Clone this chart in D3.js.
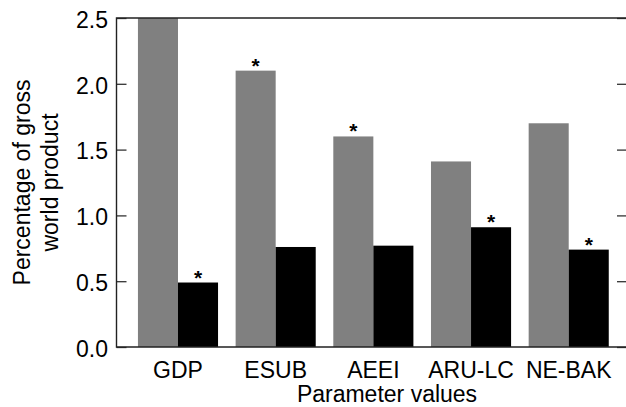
<!DOCTYPE html>
<html>
<head>
<meta charset="utf-8">
<script src="https://cdn.jsdelivr.net/npm/d3@7"></script>
<style>
  html, body { margin: 0; padding: 0; background: #fff; }
  svg { display: block; }
  text { font-family: "Liberation Sans", Arial, sans-serif; fill: #000; }
</style>
</head>
<body>
<svg id="chart" width="626" height="407"></svg>
<script>
const categories = ["GDP", "ESUB", "AEEI", "ARU-LC", "NE-BAK"];
const seriesNames = ["gray", "black"];
const grayValues = [2.5, 2.1, 1.6, 1.41, 1.70];
const blackValues = [0.49, 0.76, 0.77, 0.91, 0.74];
const grayStars = [false, true, true, false, false];
const blackStars = [true, false, false, true, true];
const yTicks = [0, 0.5, 1.0, 1.5, 2.0, 2.5];
const yLabelLines = ["Percentage of gross", "world product"];
const xTitle = "Parameter values";

const colors = { gray: "#808080", black: "#000000" };

const svg = d3.select("#chart");
const pL = 116.5, pR = 627, pT = 18, pB = 347;
const fs = 23;

const x0 = d3.scaleBand().domain(categories).range([129.15, 617.55]).paddingInner(0.18).paddingOuter(0.09);
const x1 = d3.scaleBand().domain(seriesNames).range([0, x0.bandwidth()]).padding(0);
const y = d3.scaleLinear().domain([0, 2.5]).range([pB, pT]);

const data = categories.map((c, i) => ({
  cat: c,
  vals: [
    { s: "gray", v: grayValues[i], star: grayStars[i] },
    { s: "black", v: blackValues[i], star: blackStars[i] }
  ]
}));

svg.append("clipPath").attr("id", "plotclip")
  .append("rect").attr("x", pL).attr("y", pT).attr("width", pR - pL).attr("height", pB - pT);

const groups = svg.append("g").attr("clip-path", "url(#plotclip)")
  .selectAll("g").data(data).join("g")
  .attr("transform", d => `translate(${x0(d.cat)},0)`);

groups.selectAll("rect").data(d => d.vals).join("rect")
  .attr("x", d => x1(d.s))
  .attr("width", x1.bandwidth())
  .attr("y", d => y(d.v))
  .attr("height", d => y(0) - y(d.v))
  .attr("fill", d => colors[d.s]);

groups.selectAll("text.star").data(d => d.vals.filter(v => v.star)).join("text")
  .attr("class", "star")
  .attr("x", d => x1(d.s) + x1.bandwidth() / 2)
  .attr("y", d => y(d.v) + 2)
  .attr("text-anchor", "middle")
  .style("font-size", "21px")
  .style("font-weight", "bold")
  .text("*");

// left axis (inward ticks)
const yAxis = svg.append("g").attr("transform", `translate(${pL},0)`)
  .call(d3.axisLeft(y).tickValues(yTicks).tickSize(-10).tickPadding(8.5).tickFormat(d3.format(".1f")));
yAxis.select(".domain").remove();
yAxis.selectAll(".tick line").attr("stroke", "#333").attr("stroke-width", 1.3);
yAxis.selectAll(".tick text").style("font-size", fs + "px")
  .attr("font-family", null).attr("dy", "0.4em");

// right axis ticks
const yAxisR = svg.append("g").attr("transform", `translate(${pR},0)`)
  .call(d3.axisRight(y).tickValues(yTicks).tickSize(-10).tickFormat(""));
yAxisR.select(".domain").remove();
yAxisR.selectAll(".tick line").attr("stroke", "#333").attr("stroke-width", 1.3);

// frame
svg.append("path")
  .attr("d", `M${pR},${pT}H${pL}V${pB}H${pR}`)
  .attr("fill", "none").attr("stroke", "#222").attr("stroke-width", 1.4);

// x labels
const xAxis = svg.append("g").attr("transform", `translate(0,${pB})`)
  .call(d3.axisBottom(x0).tickSize(0).tickPadding(0));
xAxis.select(".domain").remove();
xAxis.selectAll(".tick text").attr("y", 30.7).attr("dy", 0)
  .attr("font-family", null).style("font-size", fs + "px");

svg.append("text")
  .attr("x", 387).attr("y", 402)
  .attr("text-anchor", "middle")
  .style("font-size", fs + "px")
  .text(xTitle);

// y title
const yt = svg.append("text")
  .attr("transform", `translate(0,${(pT + pB) / 2}) rotate(-90)`)
  .attr("text-anchor", "middle")
  .style("font-size", fs + "px");
yt.selectAll("tspan").data(yLabelLines).join("tspan")
  .attr("x", 0)
  .attr("y", (d, i) => [30, 58][i])
  .text(d => d);
</script>
</body>
</html>
